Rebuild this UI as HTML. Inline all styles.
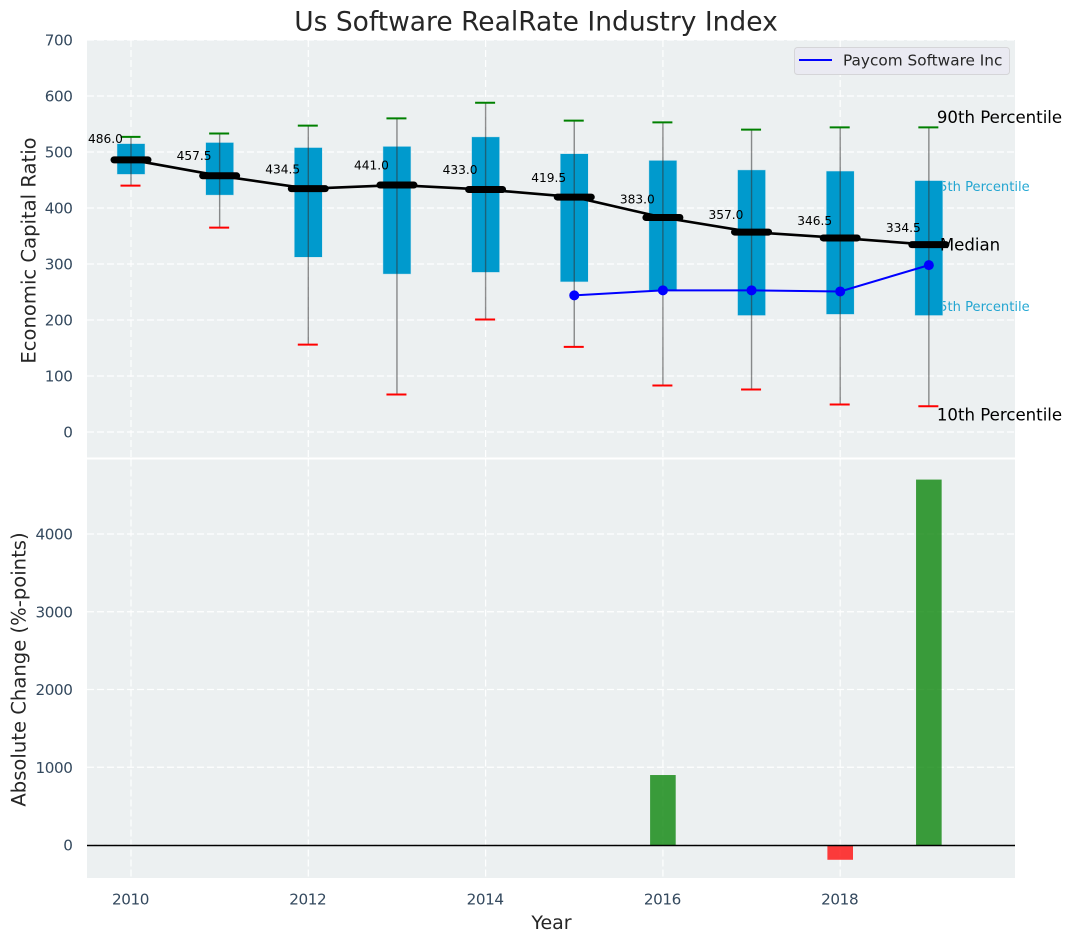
<!DOCTYPE html>
<html lang="en">
<head>
<meta charset="utf-8">
<title>Us Software RealRate Industry Index</title>
<style>
html,body{margin:0;padding:0;background:#fff;}
svg{display:block;font-family:"DejaVu Sans","Liberation Sans",sans-serif;}
</style>
</head>
<body>
<svg id="chart" xmlns="http://www.w3.org/2000/svg" width="1072" height="942" viewBox="0 0 1072 942"></svg>
<script>
const years = [2010,2011,2012,2013,2014,2015,2016,2017,2018,2019];
const p90 = [527,533,547,560,588,556,553,540,544,544];
const p75 = [515,517,508,510,527,497,485,468,466,449];
const medians = [486,457.5,434.5,441,433,419.5,383,357,346.5,334.5];
const p25 = [460,423,312,282,285,268,252,208,210,208];
const p10 = [440,365,156,67,201,152,83,76,49,46];
const companyYears = [2015,2016,2017,2018,2019];
const companyValues = [244,253,253,251,298];
const changeYears = [2016,2018,2019];
const changeValues = [900,-190,4700];
const topTicks = [0,100,200,300,400,500,600,700];
const bottomTicks = [0,1000,2000,3000,4000];
const xTicks = [2010,2012,2014,2016,2018];

const svg = document.getElementById('chart');
const NS = 'http://www.w3.org/2000/svg';
const x = v => 131 + (v - 2010) * 88.65;
const yTop = v => 432 - v * 0.56;
const yBot = v => 845 - v * 0.07775;
const PL = 87, PR = 1015;

function make(tag, attrs, text) {
  const el = document.createElementNS(NS, tag);
  for (const k in attrs) el.setAttribute(k, attrs[k]);
  if (text !== undefined) el.textContent = text;
  svg.appendChild(el);
  return el;
}
function label(txt, px, py, size, fill, anchor, extra) {
  return make('text', Object.assign({x:px, y:py, 'font-size':size, fill:fill, 'text-anchor':anchor, 'dominant-baseline':'central'}, extra || {}), txt);
}
const tickFont = {'letter-spacing':'-0.4px'};
let el;

el = make('rect', {x:PL, y:40, width:PR-PL, height:417.5, fill:'#ecf0f1'});


el = make('rect', {x:PL, y:459.5, width:PR-PL, height:418.5, fill:'#ecf0f1'});



const gridStyle = {stroke:'#fff', 'stroke-width':1.2, 'stroke-opacity':0.95, 'stroke-dasharray':'7 3'};
topTicks.forEach(t => {
  el = make('line', Object.assign({x1:PL, x2:PR, y1:yTop(t), y2:yTop(t)}, gridStyle));
  
  
  el = label(String(t), 72.5, yTop(t) + 0.5, 15.2, '#34495e', 'end', tickFont);
  
  
});
bottomTicks.forEach(t => {
  el = make('line', Object.assign({x1:PL, x2:PR, y1:yBot(t), y2:yBot(t)}, gridStyle));
  
  
  el = label(String(t), 72.5, yBot(t) + 0.5, 15.2, '#34495e', 'end', tickFont);
  
  
});
xTicks.forEach(t => {
  el = make('line', Object.assign({x1:x(t), x2:x(t), y1:40, y2:457.5}, gridStyle));
  
  
  el = make('line', Object.assign({x1:x(t), x2:x(t), y1:459.5, y2:878}, gridStyle));
  
  
  el = label(String(t), x(t) - 0.5, 899.5, 15.2, '#34495e', 'middle', tickFont);
  
  
});

const last = years.length - 1;
const lx = x(years[last]);
el = label('75th Percentile', lx + 2, yTop(p75[last]) + 7, 13.1, '#0099cc', 'start', {opacity:0.85});


el = label('25th Percentile', lx + 2, yTop(p25[last]) - 8, 13.1, '#0099cc', 'start', {opacity:0.85});



years.forEach((yr, i) => {
  el = make('rect', {x:x(yr)-14, y:yTop(p75[i]), width:28, height:yTop(p25[i])-yTop(p75[i]), fill:'#009acd', stroke:'#cfe6ee', 'stroke-width':0.5});
  
  
  el = make('line', {x1:x(yr), x2:x(yr), y1:yTop(p90[i]), y2:yTop(p10[i]), stroke:'#333', 'stroke-opacity':0.55, 'stroke-width':1.4});
  
  
  el = make('line', {x1:x(yr)-10.5, x2:x(yr)+9.5, y1:yTop(p90[i]), y2:yTop(p90[i]), stroke:'#008000', 'stroke-width':2});
  
  
  el = make('line', {x1:x(yr)-10.5, x2:x(yr)+9.5, y1:yTop(p10[i]), y2:yTop(p10[i]), stroke:'#ff0000', 'stroke-width':2});
  
  
});

el = make('polyline', {points:years.map((yr,i)=>x(yr)+','+yTop(medians[i])).join(' '), fill:'none', stroke:'#000', 'stroke-width':2.6});



years.forEach((yr, i) => {
  el = make('line', {x1:x(yr)-17, x2:x(yr)+17, y1:yTop(medians[i]), y2:yTop(medians[i]), stroke:'#000', 'stroke-width':7, 'stroke-linecap':'round'});
  
  
  el = label(medians[i].toFixed(1), x(yr)-43, yTop(medians[i] * 1.048) - 7.7, 12.2, '#000', 'start');
  
  
});

el = make('polyline', {points:companyYears.map((yr,i)=>x(yr)+','+yTop(companyValues[i])).join(' '), fill:'none', stroke:'#0000ff', 'stroke-width':2});


companyYears.forEach((yr, i) => {
  el = make('circle', {cx:x(yr), cy:yTop(companyValues[i]), r:5, fill:'#0000ff'});
  
  
});

el = label('90th Percentile', lx + 8, yTop(p90[last]) - 10, 16.6, '#000', 'start');


el = label('Median', lx + 11, yTop(medians[last]) + 0.5, 16.6, '#000', 'start');


el = label('10th Percentile', lx + 8, yTop(p10[last]) + 9, 16.6, '#000', 'start');



changeYears.forEach((yr, i) => {
  const v = changeValues[i];
  const top = Math.min(yBot(v), yBot(0));
  el = make('rect', {x:x(yr)-12.8, y:top, width:25.6, height:Math.abs(yBot(v)-yBot(0)), fill:v >= 0 ? '#008000' : '#ff0000', 'fill-opacity':0.76});
  
  
});
el = make('line', {x1:PL, x2:PR, y1:yBot(0) + 0.5, y2:yBot(0) + 0.5, stroke:'#000', 'stroke-width':1.4});



el = make('rect', {x:794.5, y:47.5, width:215, height:27, rx:3, fill:'#eaeaf2', stroke:'#d5d5d8', 'stroke-width':1});


el = make('line', {x1:799, x2:832, y1:60, y2:60, stroke:'#0000ff', 'stroke-width':2});


el = label('Paycom Software Inc', 843, 60.5, 15.3, '#262626', 'start');



el = label('Us Software RealRate Industry Index', 536, 22, 26.5, '#262626', 'middle');


el = label('Year', 551.5, 923, 19, '#262626', 'middle');


el = label('Economic Capital Ratio', 29, 250.5, 19.6, '#262626', 'middle', {transform:'rotate(-90 29 250.5)'});


el = label('Absolute Change (%-points)', 19, 669.5, 19.6, '#262626', 'middle', {transform:'rotate(-90 19 669.5)'});


</script>
</body>
</html>
